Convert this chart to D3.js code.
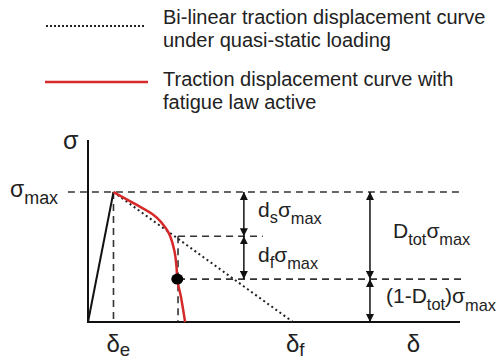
<!DOCTYPE html>
<html>
<head>
<meta charset="utf-8">
<script src="https://cdn.jsdelivr.net/npm/d3@7"></script>
<style>
  body { margin: 0; background: #fff; }
  text { font-family: "Liberation Sans", Arial, sans-serif; fill: #222; }
</style>
</head>
<body>
<div id="chart"></div>
<script>
// Canvas size
var width = 502, height = 360;

// Data: x in displacement units, y as fraction of sigma_max
var deltaE = 6.85, deltaF = 55.1;
var bilinear = [[0, 0], [deltaE, 1], [deltaF, 0]];
var fatigue = [[6.85, 1], [12.5, 0.91], [17.8, 0.82], [21.2, 0.71], [23.2, 0.55],
               [23.8, 0.42], [24.0, 0.33], [25.0, 0.19], [26.1, 0]];
var dsLevel = 0.66, dtotLevel = 0.33;
var damagePoint = [24.0, 0.33];
var xLabels = [
  {x: deltaE, main: "\u03b4", sub: "e"},
  {x: deltaF, main: "\u03b4", sub: "f"},
  {x: 87.6, main: "\u03b4", sub: ""}
];
var legendLabels = [
  ["Bi-linear traction displacement curve", "under quasi-static loading"],
  ["Traction displacement curve with", "fatigue law active"]
];

// Scales
var x = d3.scaleLinear().domain([0, 100]).range([88, 460]);
var y = d3.scaleLinear().domain([0, 1]).range([322, 192]);

var svg = d3.select("#chart").append("svg")
    .attr("width", width)
    .attr("height", height);

// Arrow markers
var defs = svg.append("defs");
defs.append("marker")
    .attr("id", "arrow")
    .attr("viewBox", "0 0 10 10")
    .attr("refX", 10).attr("refY", 5)
    .attr("markerWidth", 8).attr("markerHeight", 8)
    .attr("markerUnits", "userSpaceOnUse")
    .attr("orient", "auto-start-reverse")
    .append("path")
    .attr("d", "M0,0L10,5L0,10Z")
    .attr("fill", "#111");

// Legend
var legend = svg.append("g");
legend.append("line")
    .attr("x1", 46).attr("x2", 144).attr("y1", 26).attr("y2", 26)
    .attr("stroke", "#222").attr("stroke-width", 2)
    .attr("stroke-dasharray", "2,2");
legend.append("line")
    .attr("x1", 45).attr("x2", 148).attr("y1", 82).attr("y2", 82)
    .attr("stroke", "#d62a2a").attr("stroke-width", 2.5);
legendLabels.forEach(function(lines, i) {
  lines.forEach(function(t, j) {
    legend.append("text")
        .attr("x", 163)
        .attr("y", 24 + i * 62 + j * 23)
        .attr("font-size", 20)
        .text(t);
  });
});

// Dashed guide lines
var dash = "7,5";
var guides = [
  [[-5.4, 1], [100.5, 1]],
  [[24.2, dsLevel], [47, dsLevel]],
  [[24.2, dtotLevel], [100.5, dtotLevel]],
  [[deltaE, 1], [deltaE, 0]],
  [[24.2, dsLevel], [24.2, 0]]
];
svg.selectAll(".guide")
  .data(guides)
  .join("line")
  .attr("class", "guide")
  .attr("x1", d => x(d[0][0])).attr("y1", d => y(d[0][1]))
  .attr("x2", d => x(d[1][0])).attr("y2", d => y(d[1][1]))
  .attr("stroke", "#333").attr("stroke-width", 1.6)
  .attr("stroke-dasharray", dash);

// Axes
svg.append("line")
    .attr("x1", x(0)).attr("x2", x(0))
    .attr("y1", y(0) + 1).attr("y2", y(1.4))
    .attr("stroke", "#111").attr("stroke-width", 2);
svg.append("line")
    .attr("x1", x(0) - 1).attr("x2", x(100))
    .attr("y1", y(0)).attr("y2", y(0))
    .attr("stroke", "#111").attr("stroke-width", 2);

// Bi-linear curve: loading branch solid, softening branch dotted
var line = d3.line().x(d => x(d[0])).y(d => y(d[1]));
svg.append("path")
    .attr("d", line(bilinear.slice(0, 2)))
    .attr("fill", "none").attr("stroke", "#111").attr("stroke-width", 2);
svg.append("path")
    .attr("d", line(bilinear.slice(1)))
    .attr("fill", "none").attr("stroke", "#222").attr("stroke-width", 2)
    .attr("stroke-dasharray", "2,3");

// Fatigue curve
svg.append("path")
    .attr("d", line.curve(d3.curveMonotoneY)(fatigue))
    .attr("fill", "none").attr("stroke", "#d62a2a").attr("stroke-width", 2.5);

// Damage point
svg.append("ellipse")
    .attr("cx", x(damagePoint[0])).attr("cy", y(damagePoint[1]))
    .attr("rx", 6).attr("ry", 5.5)
    .attr("fill", "#000");

// Double-headed arrows
var arrows = [
  [41.9, 1, dsLevel], [41.9, dsLevel, dtotLevel],
  [75.8, 1, dtotLevel], [75.8, dtotLevel, 0]
];
svg.selectAll(".arrow")
  .data(arrows)
  .join("line")
  .attr("class", "arrow")
  .attr("x1", d => x(d[0])).attr("x2", d => x(d[0]))
  .attr("y1", d => y(d[1])).attr("y2", d => y(d[2]))
  .attr("stroke", "#111").attr("stroke-width", 1.5)
  .attr("marker-start", "url(#arrow)")
  .attr("marker-end", "url(#arrow)");

// Labels with subscripts
function label(px, py, parts, size) {
  var t = svg.append("text").attr("x", px).attr("y", py).attr("font-size", size);
  parts.forEach(function(p) {
    t.append("tspan")
        .attr("font-size", p[1] ? size * 0.78 : size)
        .attr("dy", p[2] || 0)
        .text(p[0]);
  });
  return t;
}
label(258, 217, [["d"], ["s", 1, 6], ["\u03c3", 0, -6], ["max", 1, 7]], 21);
label(258, 262, [["d"], ["f", 1, 6], ["\u03c3", 0, -6], ["max", 1, 7]], 21);
label(393, 238, [["D"], ["tot", 1, 7], ["\u03c3", 0, -7], ["max", 1, 7]], 21);
label(386, 303, [["(1-D"], ["tot", 1, 7], [")\u03c3", 0, -7], ["max", 1, 8]], 21);
label(10, 197, [["\u03c3"], ["max", 1, 7]], 23);
label(63, 149, [["\u03c3"]], 25);

xLabels.forEach(function(d) {
  var px = x(d.x) - 7;
  label(px, 352, [[d.main], [d.sub, 1, 4]], 24);
});
</script>
</body>
</html>
